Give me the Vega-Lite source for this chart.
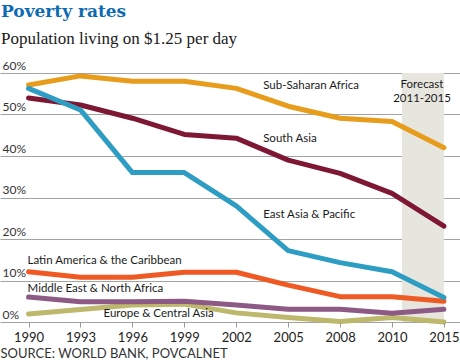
{
  "$schema": "https://vega.github.io/schema/vega-lite/v6.json",
  "width": 460,
  "height": 249,
  "autosize": {"type": "none"},
  "padding": {"left": 0, "top": 73, "right": 0, "bottom": 38},
  "background": "white",
  "title": {
    "text": "Poverty rates",
    "subtitle": "Population living on $1.25 per day",
    "anchor": "start",
    "frame": "group",
    "orient": "top",
    "offset": 11,
    "font": "DejaVu Serif",
    "fontSize": 17,
    "fontWeight": "bold",
    "color": "#0d6ab4",
    "subtitleFont": "Liberation Serif",
    "subtitleFontSize": 17,
    "subtitleColor": "#1a1a1a",
    "subtitlePadding": 10,
    "dx": 1
  },
  "config": {
    "view": {"stroke": null},
    "font": "Lato"
  },
  "datasets": {
    "series": [
      {"region": "Europe & Central Asia", "year": "1990", "rate": 1.9},
      {"region": "Europe & Central Asia", "year": "1993", "rate": 3.0},
      {"region": "Europe & Central Asia", "year": "1996", "rate": 4.1},
      {"region": "Europe & Central Asia", "year": "1999", "rate": 4.3},
      {"region": "Europe & Central Asia", "year": "2002", "rate": 2.2},
      {"region": "Europe & Central Asia", "year": "2005", "rate": 1.1},
      {"region": "Europe & Central Asia", "year": "2008", "rate": 0.1},
      {"region": "Europe & Central Asia", "year": "2010", "rate": 1.1},
      {"region": "Europe & Central Asia", "year": "2015", "rate": 0.0},
      {"region": "Middle East & North Africa", "year": "1990", "rate": 6.0},
      {"region": "Middle East & North Africa", "year": "1993", "rate": 4.9},
      {"region": "Middle East & North Africa", "year": "1996", "rate": 4.9},
      {"region": "Middle East & North Africa", "year": "1999", "rate": 5.0},
      {"region": "Middle East & North Africa", "year": "2002", "rate": 4.1},
      {"region": "Middle East & North Africa", "year": "2005", "rate": 3.1},
      {"region": "Middle East & North Africa", "year": "2008", "rate": 3.1},
      {"region": "Middle East & North Africa", "year": "2010", "rate": 2.1},
      {"region": "Middle East & North Africa", "year": "2015", "rate": 3.1},
      {"region": "Latin America & the Caribbean", "year": "1990", "rate": 12.1},
      {"region": "Latin America & the Caribbean", "year": "1993", "rate": 10.8},
      {"region": "Latin America & the Caribbean", "year": "1996", "rate": 10.8},
      {"region": "Latin America & the Caribbean", "year": "1999", "rate": 12.0},
      {"region": "Latin America & the Caribbean", "year": "2002", "rate": 12.0},
      {"region": "Latin America & the Caribbean", "year": "2005", "rate": 8.9},
      {"region": "Latin America & the Caribbean", "year": "2008", "rate": 6.1},
      {"region": "Latin America & the Caribbean", "year": "2010", "rate": 6.1},
      {"region": "Latin America & the Caribbean", "year": "2015", "rate": 5.0},
      {"region": "Sub-Saharan Africa", "year": "1990", "rate": 57.1},
      {"region": "Sub-Saharan Africa", "year": "1993", "rate": 59.3},
      {"region": "Sub-Saharan Africa", "year": "1996", "rate": 58.0},
      {"region": "Sub-Saharan Africa", "year": "1999", "rate": 58.0},
      {"region": "Sub-Saharan Africa", "year": "2002", "rate": 56.3},
      {"region": "Sub-Saharan Africa", "year": "2005", "rate": 52.0},
      {"region": "Sub-Saharan Africa", "year": "2008", "rate": 49.1},
      {"region": "Sub-Saharan Africa", "year": "2010", "rate": 48.3},
      {"region": "Sub-Saharan Africa", "year": "2015", "rate": 42.0},
      {"region": "South Asia", "year": "1990", "rate": 54.0},
      {"region": "South Asia", "year": "1993", "rate": 52.3},
      {"region": "South Asia", "year": "1996", "rate": 49.1},
      {"region": "South Asia", "year": "1999", "rate": 45.2},
      {"region": "South Asia", "year": "2002", "rate": 44.3},
      {"region": "South Asia", "year": "2005", "rate": 39.0},
      {"region": "South Asia", "year": "2008", "rate": 35.8},
      {"region": "South Asia", "year": "2010", "rate": 31.0},
      {"region": "South Asia", "year": "2015", "rate": 23.1},
      {"region": "East Asia & Pacific", "year": "1990", "rate": 56.3},
      {"region": "East Asia & Pacific", "year": "1993", "rate": 51.1},
      {"region": "East Asia & Pacific", "year": "1996", "rate": 36.0},
      {"region": "East Asia & Pacific", "year": "1999", "rate": 36.0},
      {"region": "East Asia & Pacific", "year": "2002", "rate": 28.0},
      {"region": "East Asia & Pacific", "year": "2005", "rate": 17.2},
      {"region": "East Asia & Pacific", "year": "2008", "rate": 14.3},
      {"region": "East Asia & Pacific", "year": "2010", "rate": 12.1},
      {"region": "East Asia & Pacific", "year": "2015", "rate": 5.9}
    ]
  },
  "layer": [
    {
      "data": {"values": [{"start": "2010", "end": "2015", "lo": 0, "hi": 60}]},
      "mark": {"type": "rect", "color": "#e6e5de", "xOffset": 10, "x2Offset": 0},
      "encoding": {
        "x": {"field": "start", "type": "ordinal", "scale": {"type": "point", "padding": 0.43, "align": 0.64, "domain": ["1990","1993","1996","1999","2002","2005","2008","2010","2015"]},
          "axis": {
            "title": "SOURCE: WORLD BANK, POVCALNET",
            "titleAnchor": "start",
            "titleAlign": "left",
            "titleFont": "Lato",
            "titleFontSize": 13,
            "titleFontWeight": "normal",
            "titleColor": "#333333",
            "titlePadding": 3,
            "labelFont": "Lato",
            "labelFontSize": 13,
            "labelColor": "#222222",
            "labelPadding": 4,
            "labelAngle": 0,
            "tickColor": "#999999",
            "tickSize": 5,
            "domain": false,
            "grid": false
          }},
        "x2": {"field": "end"},
        "y": {"field": "lo", "type": "quantitative", "scale": {"domain": [0, 60], "nice": false},
          "axis": {
            "title": null,
            "values": [0, 10, 20, 30, 40, 50, 60],
            "labelExpr": "datum.value + '%'",
            "labelAlign": "left",
            "labelBaseline": "bottom",
            "labelPadding": -2,
            "labelOffset": -1,
            "labelFont": "Lato",
            "labelFontSize": 12,
            "labelColor": "#333333",
            "ticks": false,
            "domain": false,
            "grid": true,
            "gridColor": "#a3a3a3",
            "gridWidth": 1
          }},
        "y2": {"field": "hi"}
      }
    },
    {
      "data": {"name": "series"},
      "mark": {"type": "line", "strokeWidth": 5, "strokeCap": "round", "strokeJoin": "round"},
      "encoding": {
        "x": {"field": "year", "type": "ordinal"},
        "y": {"field": "rate", "type": "quantitative"},
        "color": {
          "field": "region", "type": "nominal", "legend": null, "sort": null,
          "scale": {
            "domain": ["Europe & Central Asia", "Middle East & North Africa", "Latin America & the Caribbean", "Sub-Saharan Africa", "South Asia", "East Asia & Pacific"],
            "range": ["#bdb86c", "#8d5a85", "#ef5a24", "#e89c1c", "#7e1733", "#2d9dc3"]
          }
        }
      }
    },
    {
      "data": {"values": [
        {"label": "Sub-Saharan Africa", "year": "2005", "y": 56.9},
        {"label": "South Asia", "year": "2005", "y": 44.1},
        {"label": "East Asia & Pacific", "year": "2005", "y": 25.8}
      ]},
      "mark": {"type": "text", "align": "left", "baseline": "middle", "dx": -25, "font": "Lato", "fontSize": 11.5, "color": "#1a1a1a"},
      "encoding": {
        "x": {"field": "year", "type": "ordinal"},
        "y": {"field": "y", "type": "quantitative"},
        "text": {"field": "label"}
      }
    },
    {
      "data": {"values": [
        {"label": "Latin America & the Caribbean", "year": "1990", "y": 14.7},
        {"label": "Middle East & North Africa", "year": "1990", "y": 8.0}
      ]},
      "mark": {"type": "text", "align": "left", "baseline": "middle", "dx": -1, "font": "Lato", "fontSize": 11.5, "color": "#1a1a1a"},
      "encoding": {
        "x": {"field": "year", "type": "ordinal"},
        "y": {"field": "y", "type": "quantitative"},
        "text": {"field": "label"}
      }
    },
    {
      "data": {"values": [
        {"label": "Europe & Central Asia", "year": "1993", "y": 1.9}
      ]},
      "mark": {"type": "text", "align": "left", "baseline": "middle", "dx": 23, "font": "Lato", "fontSize": 11.5, "color": "#1a1a1a"},
      "encoding": {
        "x": {"field": "year", "type": "ordinal"},
        "y": {"field": "y", "type": "quantitative"},
        "text": {"field": "label"}
      }
    },
    {
      "data": {"values": [
        {"label": "Forecast", "year": "2010", "y": 57.1},
        {"label": "2011-2015", "year": "2010", "y": 53.7}
      ]},
      "mark": {"type": "text", "align": "center", "baseline": "middle", "dx": 30, "font": "Lato", "fontSize": 11.5, "color": "#1a1a1a"},
      "encoding": {
        "x": {"field": "year", "type": "ordinal"},
        "y": {"field": "y", "type": "quantitative"},
        "text": {"field": "label"}
      }
    }
  ]
}
